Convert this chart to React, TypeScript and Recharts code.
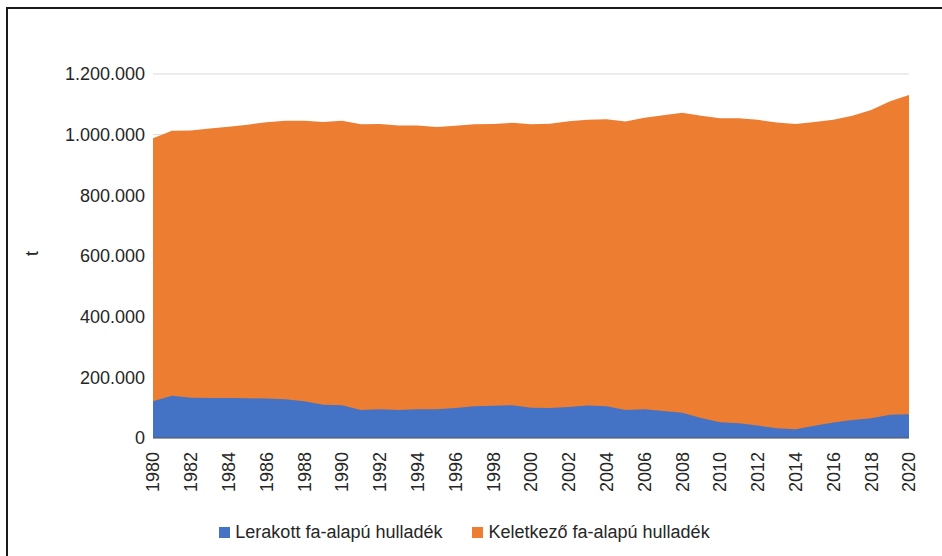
import React from 'react';
import { AreaChart, Area, XAxis, YAxis, CartesianGrid, Legend } from 'recharts';

const years = [
  1980, 1981, 1982, 1983, 1984, 1985, 1986, 1987, 1988, 1989,
  1990, 1991, 1992, 1993, 1994, 1995, 1996, 1997, 1998, 1999,
  2000, 2001, 2002, 2003, 2004, 2005, 2006, 2007, 2008, 2009,
  2010, 2011, 2012, 2013, 2014, 2015, 2016, 2017, 2018, 2019, 2020,
];

// Lerakott fa-alapú hulladék (t)
const lerakott = [
  121000, 139000, 133000, 132000, 132000, 131000, 130000, 128000, 121000, 110000,
  108000, 92000, 95000, 92000, 95000, 95000, 99000, 105000, 106000, 108000,
  100000, 99000, 102000, 107000, 105000, 92000, 95000, 89000, 83000, 66000,
  52000, 49000, 41000, 32000, 29000, 40000, 51000, 59000, 65000, 77000, 78000,
];

// Keletkező fa-alapú hulladék (t)
const keletkezo = [
  988000, 1013000, 1014000, 1020000, 1026000, 1033000, 1041000, 1046000, 1046000, 1042000,
  1046000, 1034000, 1035000, 1030000, 1030000, 1025000, 1029000, 1034000, 1035000, 1039000,
  1034000, 1036000, 1044000, 1049000, 1051000, 1043000, 1056000, 1064000, 1072000, 1062000,
  1054000, 1054000, 1049000, 1040000, 1035000, 1042000, 1049000, 1062000, 1081000, 1110000, 1131000,
];

const yTicks = [0, 200000, 400000, 600000, 800000, 1000000, 1200000];

const legendItems = [
  { name: 'Lerakott fa-alapú hulladék', color: '#4472C4' },
  { name: 'Keletkező fa-alapú hulladék', color: '#ED7D31' },
];

const data = years.map((y, i) => ({ year: y, lerakott: lerakott[i], keletkezo: keletkezo[i] }));

const font = '"Liberation Sans", Arial, sans-serif';
const textColor = '#262626';

const fmt = (v: number) => String(v).replace(/\B(?=(\d{3})+(?!\d))/g, '.');

const YearTick = (props: any) => {
  const { x, y, payload } = props;
  return (
    <g transform={`translate(${x},${y})`}>
      <text
        transform="rotate(-90)"
        x={-6}
        y={0}
        dy="0.36em"
        textAnchor="end"
        fill={textColor}
        fontSize={18}
        fontFamily={font}
      >
        {payload.value}
      </text>
    </g>
  );
};

const LegendContent = () => (
  <div style={{ display: 'flex', justifyContent: 'center', gap: 30, fontFamily: font, fontSize: 18, color: textColor }}>
    {legendItems.map((it) => (
      <div key={it.name} style={{ display: 'flex', alignItems: 'center' }}>
        <span style={{ width: 11, height: 11, background: it.color, marginRight: 5, display: 'inline-block' }} />
        <span>{it.name}</span>
      </div>
    ))}
  </div>
);

export default function App() {
  return (
    <div style={{ position: 'absolute', left: 0, top: 0, width: 942, height: 556, background: '#fff', overflow: 'hidden' }}>
      <div
        style={{
          position: 'absolute',
          left: 6,
          top: 7,
          width: 960,
          height: 580,
          border: '2px solid #1a1a1a',
          boxSizing: 'border-box',
        }}
      />
      <div style={{ position: 'absolute', left: 0, top: 0 }}>
        <AreaChart width={942} height={556} data={data} margin={{ top: 74, right: 33, bottom: 13, left: 20 }}>
          <CartesianGrid vertical={false} stroke="#d9d9d9" />
          <XAxis
            dataKey="year"
            interval={1}
            tick={<YearTick />}
            tickLine={false}
            axisLine={{ stroke: '#595959' }}
            height={84}
          />
          <YAxis
            width={133}
            domain={[0, 1200000]}
            ticks={yTicks}
            tickFormatter={fmt}
            axisLine={false}
            tickLine={false}
            tick={{ fill: textColor, fontSize: 18, fontFamily: font }}
            label={{ value: 't', angle: -90, position: 'insideLeft', offset: 12, fill: textColor, fontSize: 18, fontFamily: font }}
          />
          <Area
            type="linear"
            dataKey="keletkezo"
            name="Keletkező fa-alapú hulladék"
            fill="#ED7D31"
            fillOpacity={1}
            stroke="none"
            isAnimationActive={false}
          />
          <Area
            type="linear"
            dataKey="lerakott"
            name="Lerakott fa-alapú hulladék"
            fill="#4472C4"
            fillOpacity={1}
            stroke="none"
            isAnimationActive={false}
          />
          <Legend verticalAlign="bottom" content={<LegendContent />} />
        </AreaChart>
      </div>
    </div>
  );
}
